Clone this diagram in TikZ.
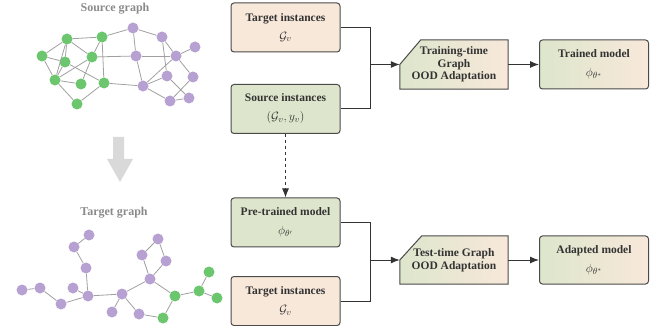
\documentclass[tikz,border=0pt]{standalone}
\usepackage{fontspec}
\setmainfont{Liberation Serif}
\usetikzlibrary{arrows.meta,calc}
\definecolor{gA}{HTML}{6CC66D}
\definecolor{pA}{HTML}{B6A1D2}
\definecolor{edgeC}{HTML}{A0A0A0}
\definecolor{peach}{HTML}{F8E8DA}
\definecolor{sage}{HTML}{DDE6CC}
\definecolor{bord}{HTML}{4A4A4A}
\definecolor{txt}{HTML}{333333}
\definecolor{ttl}{HTML}{8A8A8A}
\definecolor{bigarrow}{HTML}{D9D9D9}
\pgfdeclarelayer{bglayer}
\pgfsetlayers{bglayer,main}
\newcommand{\mth}[1]{{\fontsize{13}{19}\selectfont$#1$}}
\begin{document}
\begin{tikzpicture}[x=1pt,y=-1pt,
  gn/.style={circle,inner sep=0pt,minimum size=11pt,draw=none},
  grn/.style={gn,fill=gA},
  pur/.style={gn,fill=pA},
  ge/.style={draw=edgeC,line width=0.8pt},
  gtitle/.style={font=\bfseries\fontsize{12}{13}\selectfont,text=ttl},
  box/.style={draw=bord,line width=1pt,rounded corners=3pt,minimum width=109pt,minimum height=49pt,align=center,font=\bfseries\fontsize{11.5}{19}\selectfont,text=txt,inner sep=0pt},
  trap/.style={minimum width=108pt,minimum height=49pt,align=center,font=\bfseries\fontsize{11.5}{12.5}\selectfont,text=txt,inner sep=0pt},
  conn/.style={draw=txt,line width=1pt},
  arr/.style={conn,-{Latex[length=9pt,width=7pt]}}
]
\useasboundingbox (0,0) rectangle (662,326);

% ---------- Source graph ----------
\node[gtitle] (st) at (115,9) {Source graph};
\foreach \n/\x/\y in {g1/67/39,g2/102/37,g3/42/56,g4/65/62,g5/92/57,g6/55/80,g7/81/84,g8/104/83,g9/77/104}
  \node[grn] (\n) at (\x,\y) {};
\foreach \n/\x/\y in {p1/133/28,p2/162/37,p3/195/47,p4/136/56,p5/176/56,p6/167/76,p7/193/77,p8/143/86,p9/170/101,p10/189/98}
  \node[pur] (\n) at (\x,\y) {};
\foreach \a/\b in {g1/g2,g1/g3,g1/g4,g1/g5,g1/g6,g3/g4,g3/g6,g4/g8,g4/g6,g6/g5,g6/g7,g6/g9,g9/g8,g5/g2,g5/g7,g2/g8,
  g5/p4,g8/p8,g2/p1,p1/p2,p1/p4,p2/p5,p2/p6,p5/p3,p4/p5,p4/p8,p5/p8,p5/p7,p8/p6,p8/p9,p9/p10,p6/p10,p7/p9}
  \draw[ge] (\a) -- (\b);

% ---------- big gray arrow ----------
\fill[bigarrow] (113,137) -- (124,137) -- (124,159) -- (133,159) -- (120,182) -- (107,159) -- (113,159) -- cycle;

% ---------- Target graph ----------
\node[gtitle] (tt) at (114,213) {Target graph};
\foreach \n/\x/\y in {ta/22/290,tb/40/288,tc/61/304,td/73/288,te/88/296,tf/86/268,tg/74/247,th/89/235,ti/122/294,tj/112/312,tk/139/314,tl/150/279,tm/142/255,tn/158/239,to/166/261}
  \node[pur] (\n) at (\x,\y) {};
\foreach \n/\x/\y in {G1/175/296,G2/163/318,G3/199/291,G4/209/272,G5/217/298}
  \node[grn] (\n) at (\x,\y) {};
\foreach \a/\b in {ta/tb,tb/tc,tc/te,td/te,te/tf,tf/tg,tg/th,te/ti,ti/tj,ti/tk,tk/G2,G2/G1,ti/tl,tl/tm,tm/tn,tn/to,to/tl,tl/G1,G1/G3,G3/G4,G3/G5}
  \draw[ge] (\a) -- (\b);

% ---------- top row ----------
\node[box,fill=peach] (ti1) at (285.5,27.5) {Target instances\\\mth{\mathcal{G}_v}};
\node[box,fill=sage] (si) at (285.5,109) {Source instances\\\mth{(\mathcal{G}_v, y_v)}};
\node[trap] (tr) at (454,64.5) {Training-time\\Graph\\OOD Adaptation};
\begin{pgfonlayer}{bglayer}
\shade[left color=sage,right color=peach] (tr.west) -- ([xshift=21pt]tr.north west) -- (tr.north east) -- (tr.south east) -- (tr.south west) -- cycle;
\end{pgfonlayer}
\draw[draw=bord,line width=1pt] (tr.west) -- ([xshift=21pt]tr.north west) -- (tr.north east) -- (tr.south east) -- (tr.south west) -- cycle;
\node[box,left color=sage,right color=peach] (tm1) at (594,64.5) {Trained model\\\mth{\phi_{\theta^*}}};
\coordinate (j1) at (370,64.5);
\draw[conn] (ti1.east) -| (j1);
\draw[conn] (si.east) -| (j1);
\draw[arr] (j1) -- (tr.west);
\draw[arr] (tr.east) -- (tm1.west);

% ---------- bottom row ----------
\node[box,fill=sage] (pm) at (285.5,222.5) {Pre-trained model\\\mth{\phi_{\theta'}}};
\node[box,fill=peach] (ti2) at (285.5,301) {Target instances\\\mth{\mathcal{G}_v}};
\node[trap,minimum height=48pt] (te2) at (454,260) {Test-time Graph\\OOD Adaptation};
\begin{pgfonlayer}{bglayer}
\shade[left color=sage,right color=peach] (te2.west) -- ([xshift=22pt]te2.north west) -- (te2.north east) -- (te2.south east) -- (te2.south west) -- cycle;
\end{pgfonlayer}
\draw[draw=bord,line width=1pt] (te2.west) -- ([xshift=22pt]te2.north west) -- (te2.north east) -- (te2.south east) -- (te2.south west) -- cycle;
\node[box,minimum height=48pt,left color=sage,right color=peach] (am) at (594,260) {Adapted model\\\mth{\phi_{\theta^*}}};
\coordinate (j2) at (370,260);
\draw[conn] (pm.east) -| (j2);
\draw[conn] (ti2.east) -| (j2);
\draw[arr] (j2) -- (te2.west);
\draw[arr] (te2.east) -- (am.west);

% dashed arrow
\draw[arr,dashed] (si.south) -- (pm.north);
\end{tikzpicture}
\end{document}
